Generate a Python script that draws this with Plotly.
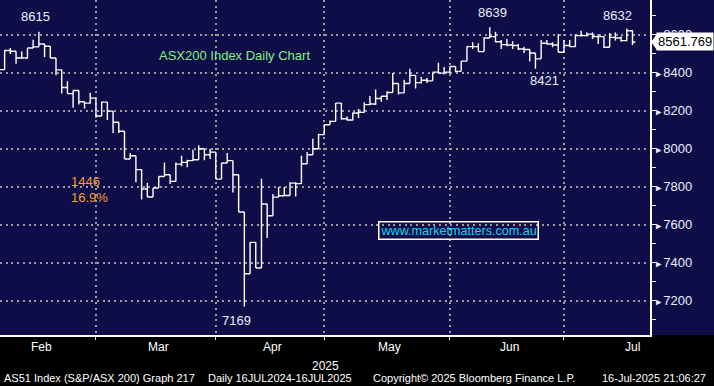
import pandas as pd
import numpy as np
import plotly.graph_objects as go

# ---------------- data ----------------
dates = ["2025-02-05","2025-02-06","2025-02-07","2025-02-10","2025-02-11","2025-02-12","2025-02-13","2025-02-14",
         "2025-02-17","2025-02-18","2025-02-19","2025-02-20","2025-02-21","2025-02-24","2025-02-25","2025-02-26",
         "2025-02-27","2025-02-28",
         "2025-03-03","2025-03-04","2025-03-05","2025-03-06","2025-03-07","2025-03-10","2025-03-11","2025-03-12",
         "2025-03-13","2025-03-14","2025-03-17","2025-03-18","2025-03-19","2025-03-20","2025-03-21","2025-03-24",
         "2025-03-25","2025-03-26","2025-03-27","2025-03-28","2025-03-31",
         "2025-04-01","2025-04-02","2025-04-03","2025-04-04","2025-04-07","2025-04-08","2025-04-09","2025-04-10",
         "2025-04-11","2025-04-14","2025-04-15","2025-04-16","2025-04-17","2025-04-22","2025-04-23","2025-04-24",
         "2025-04-28","2025-04-29","2025-04-30",
         "2025-05-01","2025-05-02","2025-05-05","2025-05-06","2025-05-07","2025-05-08","2025-05-09","2025-05-12",
         "2025-05-13","2025-05-14","2025-05-15","2025-05-16","2025-05-19","2025-05-20","2025-05-21","2025-05-22",
         "2025-05-23","2025-05-26","2025-05-27","2025-05-28","2025-05-29","2025-05-30",
         "2025-06-02","2025-06-03","2025-06-04","2025-06-05","2025-06-06","2025-06-10","2025-06-11","2025-06-12",
         "2025-06-13","2025-06-16","2025-06-17","2025-06-18","2025-06-19","2025-06-20","2025-06-23","2025-06-24",
         "2025-06-25","2025-06-26","2025-06-27","2025-06-30",
         "2025-07-01","2025-07-02","2025-07-03","2025-07-04","2025-07-07","2025-07-08","2025-07-09","2025-07-10",
         "2025-07-11","2025-07-14","2025-07-15","2025-07-16"]

opens = [8400,8416,8517,8513,8477,8477,8530,8536,8551,8539,8477,8415,8322,8290,8306,8247,8240,8266,
         8172,8245,8198,8139,8092,7946,7963,7890,7788,7746,7793,7854,7863,7828,7919,7928,7937,7942,8000,7968,7982,
         7840,7925,7937,7863,7667,7342,7507,7372,7709,7647,7745,7752,7754,7819,7816,7921,7968,8000,8074,
         8126,8144,8240,8158,8151,8188,8191,8232,8235,8264,8276,8296,8343,8294,8343,8386,8348,8360,8357,8403,8398,8403,
         8433,8407,8461,8537,8537,8511,8583,8590,8563,8548,8546,8543,8525,8522,8504,8473,8555,8551,8546,8508,
         8543,8537,8595,8595,8603,8590,8590,8534,8586,8583,8569,8621]

highs = [8438,8520,8530,8513,8511,8530,8574,8615,8551,8539,8477,8415,8355,8306,8306,8247,8294,8266,
         8247,8245,8198,8139,8092,7977,7963,7890,7819,7793,7854,7928,7863,7928,7963,7942,7995,8018,8000,8000,7982,
         7925,7977,7937,7863,7667,7507,7507,7842,7709,7761,7798,7798,7823,7823,7963,7982,8053,8079,8126,
         8149,8240,8240,8170,8191,8209,8244,8277,8311,8277,8303,8398,8343,8363,8421,8386,8377,8372,8403,8452,8430,8433,
         8433,8461,8539,8560,8555,8586,8639,8616,8572,8577,8565,8551,8537,8525,8504,8572,8572,8560,8603,8572,
         8572,8603,8621,8612,8612,8603,8590,8609,8612,8590,8632,8624]

lows = [8372,8416,8499,8447,8477,8473,8530,8536,8482,8477,8386,8290,8290,8216,8233,8212,8238,8163,
        8172,8151,8082,8082,7946,7946,7823,7732,7746,7746,7793,7854,7814,7828,7907,7903,7937,7942,7939,7946,7840,
        7840,7925,7770,7667,7169,7342,7372,7372,7530,7647,7745,7752,7754,7749,7816,7921,7968,8000,8074,
        8126,8144,8153,8149,8149,8161,8191,8230,8230,8247,8256,8296,8285,8294,8343,8317,8343,8346,8357,8395,8391,8395,
        8403,8407,8461,8525,8511,8511,8583,8560,8525,8539,8525,8520,8504,8459,8421,8473,8548,8534,8508,8508,
        8537,8537,8590,8590,8577,8551,8530,8534,8569,8563,8565,8546]

closes = [8416,8517,8513,8477,8477,8530,8536,8551,8539,8477,8415,8322,8290,8306,8247,8240,8266,8172,
          8245,8198,8139,8092,7946,7963,7890,7788,7746,7793,7854,7863,7828,7919,7928,7937,7942,8000,7968,7982,7840,
          7925,7937,7863,7667,7342,7507,7372,7709,7647,7745,7752,7754,7819,7816,7921,7968,8000,8074,8126,
          8144,8240,8158,8151,8188,8191,8232,8235,8264,8276,8296,8343,8294,8343,8386,8348,8360,8357,8403,8398,8403,8433,
          8407,8461,8537,8537,8511,8583,8590,8563,8548,8546,8543,8525,8522,8504,8473,8555,8551,8546,8508,8543,
          8537,8595,8595,8603,8590,8590,8534,8586,8583,8569,8621,8561.769]

month_names = ["Feb", "Mar", "Apr", "May", "Jun", "Jul"]
y_ticks = [7200, 7400, 7600, 7800, 8000, 8200, 8400, 8600]
asx_holidays = ["2025-04-18", "2025-04-21", "2025-04-25", "2025-06-09"]

# ---------------- trading-day axis ----------------
cal = pd.bdate_range("2025-02-03", "2025-07-31")
cal = cal[~cal.isin(pd.to_datetime(asx_holidays))]
cal_pos = {d: i for i, d in enumerate(cal)}
origin = cal_pos[pd.Timestamp(dates[0])]
x = [cal_pos[pd.Timestamp(d)] - origin for d in dates]

cal_idx = pd.Series(np.arange(len(cal)) - origin, index=cal)
by_month = cal_idx.groupby(cal.month)
month_last = by_month.max().values
month_mid = ((by_month.min() + by_month.max()) / 2).values
boundaries = list(month_last[:-1])

NAVY = "#0f0d47"
GRID = "#9c9c9c"
TXT = "#e8eeff"
FONT = "Liberation Sans, Arial, sans-serif"

fig = go.Figure()
fig.add_trace(go.Ohlc(
    x=x, open=opens, high=highs, low=lows, close=closes,
    increasing=dict(line=dict(color="white", width=1.4)),
    decreasing=dict(line=dict(color="white", width=1.4)),
    tickwidth=0.5, hoverinfo="skip", showlegend=False))

W, H = 714, 386
L, R, T, B = 0, 64, 0, 51
pw, ph = W - L - R, H - T - B

fig.update_layout(
    width=W, height=H, margin=dict(l=L, r=R, t=T, b=B),
    paper_bgcolor="black", plot_bgcolor=NAVY,
    font=dict(family=FONT, color=TXT, size=12),
    showlegend=False,
    xaxis=dict(range=[0.19, 114.07], tickmode="array", tickvals=boundaries,
               ticktext=["" for _ in boundaries], ticks="outside", ticklen=3,
               tickcolor="white", tickwidth=1,
               showgrid=True, gridcolor=GRID, gridwidth=2, griddash="2px,3.7px",
               showline=True, linecolor="white", linewidth=1.5, zeroline=False,
               rangeslider=dict(visible=False), fixedrange=True),
    yaxis=dict(side="right", range=[7019.5, 8782.6], tickmode="array",
               tickvals=y_ticks,
               ticktext=[f"<span style='font-size:9px'>►</span>{v}" for v in y_ticks],
               ticks="", showgrid=True, gridcolor=GRID, gridwidth=2, griddash="2px,3.7px",
               showline=True, linecolor="white", linewidth=1.5, zeroline=False,
               tickfont=dict(size=13, color=TXT, family=FONT),
               minor=dict(dtick=100, ticks="outside", ticklen=4, tickcolor="white",
                          tickwidth=1, showgrid=False),
               fixedrange=True),
)

# navy background behind the right axis labels too
fig.add_shape(type="rect", xref="paper", yref="paper", x0=0, x1=W / pw, y0=0, y1=1,
              fillcolor=NAVY, line=dict(width=0), layer="below")

ann = []
# month labels
for nm, m in zip(month_names, month_mid):
    ann.append(dict(x=m, y=-(347 - ph) / ph, xref="x", yref="paper", text=nm, showarrow=False,
                    xanchor="center", yanchor="middle", font=dict(size=12, color="white")))
ann.append(dict(x=0.5, y=-(366 - ph) / ph, xref="paper", yref="paper", text="2025", showarrow=False,
                xanchor="center", yanchor="middle", font=dict(size=12, color="white")))
# footer
footer = [(2, "AS51 Index (S&P/ASX 200) Graph 217"), (206, "Daily 16JUL2024-16JUL2025"),
          (371, "Copyright© 2025 Bloomberg Finance L.P."), (600, "16-Jul-2025 21:06:27")]
for px, t in footer:
    ann.append(dict(x=px / pw, y=-(378 - ph) / ph, xref="paper", yref="paper", text=t, showarrow=False,
                    xanchor="left", yanchor="middle", font=dict(size=11, color="white")))

# price labels
i_feb = dates.index("2025-02-14")
i_jun = dates.index("2025-06-11")
i_jul = dates.index("2025-07-15")
i_low = dates.index("2025-06-23")
i_apr = dates.index("2025-04-07")
ann += [
    dict(x=x[i_feb], y=highs[i_feb], text=f"{highs[i_feb]}", yanchor="bottom", yshift=6, xshift=-3),
    dict(x=x[i_jun], y=highs[i_jun], text=f"{highs[i_jun]}", yanchor="bottom", yshift=5, xshift=3),
    dict(x=x[i_jul], y=highs[i_jul], text=f"{highs[i_jul]}", yanchor="bottom", yshift=4, xshift=-9),
    dict(x=x[i_low], y=lows[i_low], text=f"{lows[i_low]}", yanchor="top", yshift=-2, xshift=9),
    dict(x=x[i_apr], y=lows[i_apr], text=f"{lows[i_apr]}", yanchor="top", yshift=-4, xshift=-8),
]
for a in ann[-5:]:
    a.update(xref="x", yref="y", showarrow=False, xanchor="center", font=dict(size=13, color=TXT))

# chart title and studies
ann.append(dict(x=234 / pw, y=1 - 55 / ph, xref="paper", yref="paper", text="ASX200 Index Daily Chart",
                showarrow=False, xanchor="center", yanchor="middle", font=dict(size=13, color="#7ef27e")))
ann.append(dict(x=69 / pw, y=1 - 181 / ph, xref="paper", yref="paper", text="1446",
                showarrow=False, xanchor="left", yanchor="middle", font=dict(size=13, color="#f2a030")))
ann.append(dict(x=69 / pw, y=1 - 197 / ph, xref="paper", yref="paper", text="16.9%",
                showarrow=False, xanchor="left", yanchor="middle", font=dict(size=13, color="#f2a030")))
ann.append(dict(x=458.5 / pw, y=1 - 230.5 / ph, xref="paper", yref="paper", text="www.marketmatters.com.au",
                showarrow=False, xanchor="center", yanchor="middle", font=dict(size=12.6, color="#10d8f4"),
                bordercolor="white", borderwidth=1.5, borderpad=1))

# last price tag
last = closes[-1]
ann.append(dict(x=1 + 6 / pw, y=last, xref="paper", yref="y", text=f"{last:.3f}", showarrow=False,
                xanchor="left", yanchor="middle", bgcolor="white", borderpad=1,
                font=dict(size=13, color="black")))
fig.update_layout(annotations=ann)

half = 8 * (8782.6 - 7019.5) / ph
fig.add_shape(type="path", xref="paper", yref="y",
              path=f"M {1 + 1 / pw},{last} L {1 + 7 / pw},{last + half} L {1 + 7 / pw},{last - half} Z",
              fillcolor="white", line=dict(width=0), layer="above")

fig.write_html("out.html", config={"displayModeBar": False},
               post_script="document.body.style.margin='0';document.body.style.overflow='hidden';")
